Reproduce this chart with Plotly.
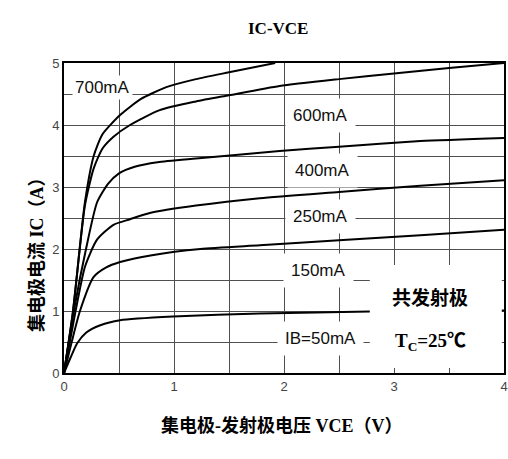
import plotly.graph_objects as go

# ---- data ----
vce_700 = [0, 0.08, 0.19, 0.27, 0.35, 0.51, 0.7, 0.93, 1.2, 1.5, 1.92]
ic_700 = [0, 0.97, 2.75, 3.5, 3.85, 4.16, 4.42, 4.61, 4.74, 4.85, 5.0]

vce_600 = [0, 0.08, 0.19, 0.27, 0.35, 0.45, 0.6, 0.87, 1.2, 1.5, 1.96, 2.5, 3.0, 3.5, 4.0]
ic_600 = [0, 0.97, 2.7, 3.3, 3.62, 3.81, 4.0, 4.24, 4.38, 4.48, 4.63, 4.74, 4.83, 4.92, 5.0]

vce_400 = [0, 0.1, 0.2, 0.3, 0.4, 0.5, 0.65, 0.85, 1.2, 1.96, 2.5, 3.24, 4.0]
ic_400 = [0, 1.1, 2.0, 2.75, 3.05, 3.22, 3.33, 3.4, 3.46, 3.58, 3.65, 3.74, 3.79]

vce_250 = [0, 0.1, 0.19, 0.3, 0.45, 0.6, 0.78, 1.2, 1.78, 2.5, 3.24, 4.0]
ic_250 = [0, 0.95, 1.71, 2.15, 2.39, 2.48, 2.58, 2.7, 2.82, 2.92, 3.02, 3.11]

vce_150 = [0, 0.07, 0.145, 0.27, 0.38, 0.51, 0.8, 1.24, 1.78, 2.5, 3.24, 4.0]
ic_150 = [0, 0.5, 1.0, 1.55, 1.7, 1.79, 1.9, 2.0, 2.06, 2.14, 2.22, 2.31]

vce_50 = [0, 0.06, 0.12, 0.2, 0.33, 0.51, 0.99, 1.78, 2.78, 4.0]
ic_50 = [0, 0.25, 0.48, 0.65, 0.77, 0.85, 0.91, 0.96, 0.99, 1.01]

curve_labels = ["700mA", "600mA", "400mA", "250mA", "150mA", "IB=50mA"]
label_pos_x = [0.35, 2.33, 2.35, 2.33, 2.31, 2.33]
label_pos_y = [4.6, 4.16, 3.27, 2.52, 1.66, 0.56]
label_pads = [2, 7, 7, 7, 7, 7]

x_tick_vals = [0, 0.5, 1, 1.5, 2, 2.5, 3, 3.5, 4]
x_tick_text = ["0", " ", "1", " ", "2", " ", "3", " ", "4"]
y_tick_vals = [0, 0.5, 1, 1.5, 2, 2.5, 3, 3.5, 4, 4.5, 5]
y_tick_text = ["0", " ", "1", " ", "2", " ", "3", " ", "4", " ", "5"]

title_text = "IC-VCE"
x_title = "集电极-发射极电压 VCE（V）"
y_title = "集电极电流 IC（A）"
box_line1 = "共发射极"
box_line2 = "T<sub>C</sub>=25℃"

SERIF = "Liberation Serif, Noto Sans CJK SC"
SANS = "Liberation Sans, Arial, sans-serif"

W, H = 508, 459
L, R, T, B = 64, 4, 63, 86
pw, ph = W - L - R, H - T - B


def px_to_paper(px, py):
    return (px - L) / pw, (H - B - py) / ph


fig = go.Figure()

for xs, ys in [(vce_700, ic_700), (vce_600, ic_600), (vce_400, ic_400),
               (vce_250, ic_250), (vce_150, ic_150), (vce_50, ic_50)]:
    fig.add_trace(go.Scatter(x=xs, y=ys, mode="lines",
                             line=dict(color="black", width=2, shape="spline", smoothing=0.6),
                             showlegend=False, hoverinfo="skip"))

for t, lx, ly, pad in zip(curve_labels, label_pos_x, label_pos_y, label_pads):
    fig.add_annotation(x=lx, y=ly, xref="x", yref="y", text=t, showarrow=False,
                       font=dict(family=SANS, size=17, color="#111"),
                       bgcolor="white", borderpad=pad)

# white condition box
fig.add_shape(type="rect", xref="x", yref="y", x0=2.78, x1=3.98, y0=0.08, y1=1.74,
              fillcolor="white", line=dict(width=0), layer="above")
fig.add_annotation(x=3.33, y=1.21, xref="x", yref="y", text="<b>" + box_line1 + "</b>",
                   showarrow=False, font=dict(family=SERIF, size=19, color="black"))
fig.add_annotation(x=3.33, y=0.5, xref="x", yref="y", text="<b>" + box_line2 + "</b>",
                   showarrow=False, font=dict(family=SERIF, size=19, color="black"))

# titles (placed by pixel position)
tx, ty = px_to_paper(278, 17)
fig.add_annotation(x=tx, y=ty, xref="paper", yref="paper", text="<b>" + title_text + "</b>",
                   showarrow=False, font=dict(family=SERIF, size=17, color="black"))
xx, xy = px_to_paper(282, 438)
fig.add_annotation(x=xx, y=xy, xref="paper", yref="paper", text="<b>" + x_title + "</b>",
                   showarrow=False, font=dict(family=SERIF, size=18, color="black"))
yx, yy = px_to_paper(25, 250)
fig.add_annotation(x=yx, y=yy, xref="paper", yref="paper", text="<b>" + y_title + "</b>",
                   showarrow=False, textangle=-90, font=dict(family=SERIF, size=18, color="black"))

axis_common = dict(showline=True, linecolor="black", linewidth=2, mirror=True,
                   showgrid=True, gridcolor="#505050", gridwidth=1, zeroline=False,
                   ticks="", tickfont=dict(family=SANS, size=13, color="#444"),
                   tickmode="array", automargin=False, layer="below traces")

fig.update_xaxes(range=[0, 4], tickvals=x_tick_vals, ticktext=x_tick_text, **axis_common)
fig.update_yaxes(range=[0, 5], tickvals=y_tick_vals, ticktext=y_tick_text, **axis_common)

fig.update_layout(template="none", width=W, height=H,
                  margin=dict(l=L, r=R, t=T, b=B, autoexpand=False),
                  plot_bgcolor="white", paper_bgcolor="white", showlegend=False)

fig.write_html("out.html", config={"responsive": False, "displayModeBar": False},
               post_script="document.body.style.margin='0px';document.body.style.padding='0px';")
